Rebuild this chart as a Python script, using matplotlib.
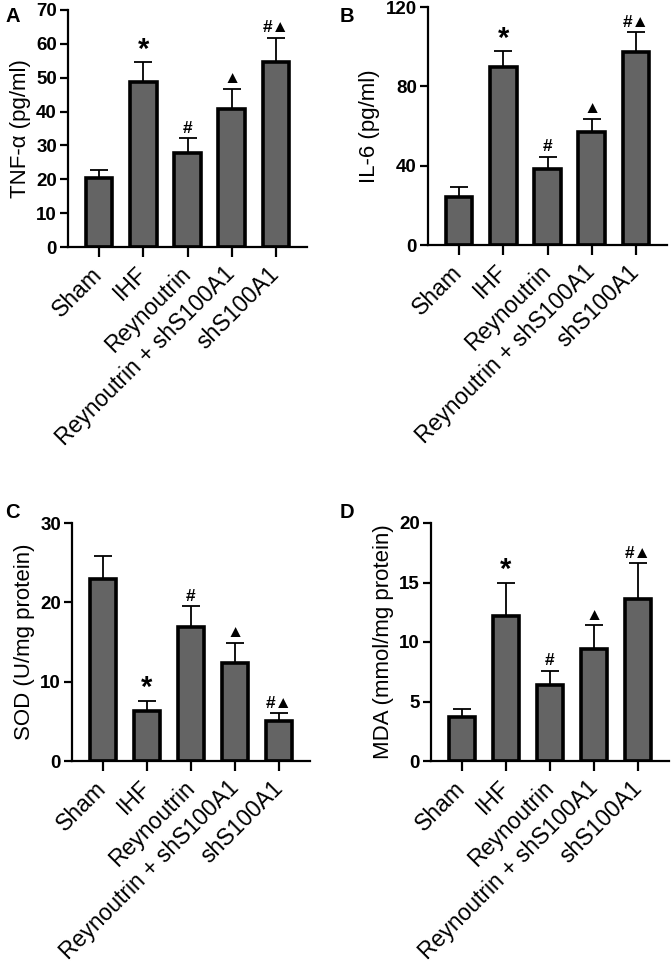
import matplotlib
matplotlib.use("Agg")
import matplotlib.pyplot as plt
import numpy as np

plt.rcParams['font.family'] = ['Liberation Sans', 'DejaVu Sans']

groups = ["Sham", "IHF", "Reynoutrin", "Reynoutrin + shS100A1", "shS100A1"]

tnf_mean = [20.3, 48.8, 27.7, 40.8, 54.6]
tnf_err = [2.3, 5.7, 4.4, 5.8, 7.2]

il6_mean = [24.0, 89.8, 38.1, 57.0, 97.3]
il6_err = [5.2, 7.9, 6.5, 6.4, 9.9]

sod_mean = [22.9, 6.3, 16.9, 12.3, 5.0]
sod_err = [2.9, 1.3, 2.6, 2.6, 1.0]

mda_mean = [3.7, 12.2, 6.4, 9.4, 13.6]
mda_err = [0.7, 2.8, 1.2, 2.0, 3.0]

marks = ["", "*", "#", "\u25B2", "#\u25B2"]

panels = [
    dict(letter="A", mean=tnf_mean, err=tnf_err, ylabel="TNF-\u03b1 (pg/ml)",
         ymax=70, yticks=[0, 10, 20, 30, 40, 50, 60, 70],
         rect=[68, 10, 307, 247], lpos=(5, 7)),
    dict(letter="B", mean=il6_mean, err=il6_err, ylabel="IL-6 (pg/ml)",
         ymax=120, yticks=[0, 40, 80, 120],
         rect=[428, 7, 667, 245], lpos=(340, 7)),
    dict(letter="C", mean=sod_mean, err=sod_err, ylabel="SOD (U/mg protein)",
         ymax=30, yticks=[0, 10, 20, 30],
         rect=[72, 523, 310, 761], lpos=(5, 503)),
    dict(letter="D", mean=mda_mean, err=mda_err, ylabel="MDA (mmol/mg protein)",
         ymax=20, yticks=[0, 5, 10, 15, 20],
         rect=[431, 523, 669, 761], lpos=(340, 503)),
]

W, H = 671, 964
fig = plt.figure(figsize=(W / 100, H / 100), dpi=100)

for p in panels:
    l, t, r, b = p["rect"]
    ax = fig.add_axes([l / W, 1 - b / H, (r - l) / W, (b - t) / H])
    x = np.arange(len(groups))
    ax.bar(x, p["mean"], width=0.6, color="#646464", edgecolor="black",
           linewidth=2.6, zorder=2)
    ax.errorbar(x, p["mean"], yerr=[np.zeros(len(x)), p["err"]], fmt="none",
                ecolor="black", elinewidth=1.3, capsize=6.5, capthick=1.3, zorder=1)
    for xi, m, e, s in zip(x, p["mean"], p["err"], marks):
        if not s:
            continue
        top = m + e
        if s == "*":
            ax.annotate(s, (xi, top), xytext=(0, -1), textcoords="offset points",
                        ha="center", va="bottom", fontsize=21, fontweight="bold")
        else:
            ax.annotate(s, (xi, top), xytext=(0, 2), textcoords="offset points",
                        ha="center", va="bottom", fontsize=12.5, fontweight="bold")
    ax.set_xlim(-0.7, 4.7)
    ax.set_ylim(0, p["ymax"])
    ax.set_yticks(p["yticks"])
    ax.set_yticklabels([str(v) for v in p["yticks"]], fontsize=13.5, fontweight="bold")
    ax.set_xticks(x)
    ax.set_xticklabels(groups, rotation=45, ha="right", va="center",
                       rotation_mode="anchor", fontsize=16.5)
    ax.tick_params(axis="x", length=7, width=1.6, pad=10)
    ax.tick_params(axis="y", length=6, width=1.6, pad=2)
    for s in ["top", "right"]:
        ax.spines[s].set_visible(False)
    for s in ["left", "bottom"]:
        ax.spines[s].set_linewidth(1.6)
    ax.set_ylabel(p["ylabel"], fontsize=16, labelpad=4)
    lx, ly = p["lpos"]
    fig.text(lx / W, 1 - ly / H, p["letter"], fontsize=14.5,
             fontweight="bold", ha="left", va="top")

fig.savefig("out.png", dpi=100)
